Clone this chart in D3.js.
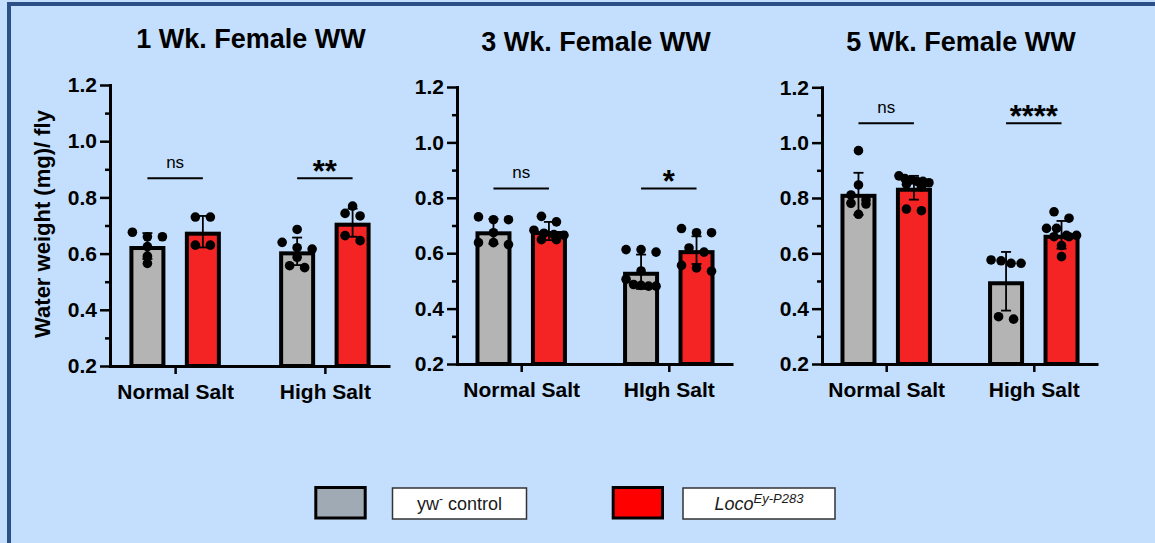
<!DOCTYPE html>
<html>
<head>
<meta charset="utf-8">
<script src="https://cdn.jsdelivr.net/npm/d3@7"></script>
<style>
  body { margin: 0; background: #c3dffd; overflow: hidden; }
  svg { display: block; font-family: Arial, "Liberation Sans", sans-serif; }
</style>
</head>
<body>
<div class="canvas"></div>
<script>
// ---- data ----
const panelTitles = ['1 Wk. Female WW', '3 Wk. Female WW', '5 Wk. Female WW'];
const categories = ['Normal Salt', 'High Salt'];
const categoryLabels = [
    ['Normal Salt', 'High Salt'],
    ['Normal Salt', 'HIgh Salt'],
    ['Normal Salt', 'High Salt']
];
const yTicks = [0.2, 0.4, 0.6, 0.8, 1.0, 1.2];
const yMinorTicks = [0.3, 0.5, 0.7, 0.9, 1.1];
const seriesNames = ['control', 'loco'];

// [panel][category]
const controlMeans = [[0.627, 0.608], [0.679, 0.533], [0.815, 0.499]];
const controlSD = [[0.046, 0.049], [0.045, 0.062], [0.076, 0.106]];
const controlPoints = [
    [[0.676, 0.66, 0.66, 0.625, 0.591, 0.565], [0.686, 0.64, 0.621, 0.616, 0.587, 0.557, 0.55]],
    [[0.731, 0.721, 0.721, 0.674, 0.638, 0.638, 0.631], [0.613, 0.613, 0.604, 0.536, 0.506, 0.487, 0.484, 0.481, 0.481]],
    [[0.971, 0.847, 0.811, 0.793, 0.781, 0.778, 0.741], [0.576, 0.573, 0.564, 0.564, 0.371, 0.362]]
];
const locoMeans = [[0.678, 0.71], [0.68, 0.611], [0.837, 0.667]];
const locoSD = [[0.056, 0.05], [0.033, 0.05], [0.043, 0.05]];
const locoPoints = [
    [[0.73, 0.73, 0.63, 0.63], [0.769, 0.743, 0.734, 0.664, 0.646]],
    [[0.733, 0.713, 0.683, 0.672, 0.667, 0.665, 0.649, 0.649], [0.689, 0.674, 0.674, 0.619, 0.604, 0.556, 0.547, 0.535]],
    [[0.88, 0.87, 0.865, 0.86, 0.86, 0.855, 0.85, 0.84, 0.76, 0.754], [0.75, 0.727, 0.69, 0.69, 0.665, 0.665, 0.66, 0.66, 0.628, 0.588]]
];

// significance brackets: label per category, height in data units per panel
const sigLabels = [['ns', '**'], ['ns', '*'], ['ns', '****']];
const sigLevels = [0.868, 0.834, 1.07];

// ---- layout ----
const width = 1155, height = 543;
const panels = [
    {x0: 110, x1: 390, yTop: 85, yBottom: 366, titleY: 48},
    {x0: 457, x1: 733, yTop: 87, yBottom: 364, titleY: 50.5},
    {x0: 822, x1: 1098, yTop: 87.3, yBottom: 364, titleY: 50.5}
];
const colors = {control: '#b4b4b4', loco: '#f42424'};
const barWidth = 36, barStroke = 4, dotR = 4.8;

const svg = d3.select('.canvas')
    .append('svg')
        .attr('width', width)
        .attr('height', height);

svg.append('rect')
    .attr('width', width).attr('height', height)
    .attr('fill', '#c3dffd');

// frame (only the top and left edges show)
svg.append('rect')
    .attr('x', 9).attr('y', 4)
    .attr('width', 1200).attr('height', 600)
    .attr('fill', 'none')
    .attr('stroke', '#2b5088')
    .attr('stroke-width', 4);

// spread dots that sit at about the same height into a row
function layoutDots(values, y) {
    const sorted = values.map(v => ({v, py: y(v)})).sort((a, b) => a.py - b.py);
    const rows = [];
    sorted.forEach(d => {
        const row = rows[rows.length - 1];
        if (row && d.py - row[0].py < 7) row.push(d);
        else rows.push([d]);
    });
    const out = [];
    rows.forEach(row => {
        const n = row.length;
        const step = n > 1 ? Math.min(15, 30 / (n - 1)) : 0;
        row.forEach((d, i) => out.push({v: d.v, py: d.py, dx: (i - (n - 1) / 2) * step}));
    });
    return out;
}

panels.forEach((p, pi) => {
    const g = svg.append('g');

    const y = d3.scaleLinear()
        .domain([0.2, 1.2])
        .range([p.yBottom, p.yTop]);

    const x = d3.scalePoint()
        .domain(categories)
        .range([p.x0, p.x1])
        .padding(0.435);

    const xSub = d3.scaleBand()
        .domain(seriesNames)
        .range([-45.75, 45.75])
        .paddingInner(0.35);

    // title
    g.append('text')
        .attr('x', (p.x0 + p.x1) / 2 + 1)
        .attr('y', p.titleY)
        .attr('text-anchor', 'middle')
        .attr('font-size', 27)
        .attr('font-weight', 'bold')
        .text(panelTitles[pi]);

    // bar data
    const data = [];
    categories.forEach((c, ci) => {
        data.push({cat: c, ci, series: 'control', mean: controlMeans[pi][ci], sd: controlSD[pi][ci], points: controlPoints[pi][ci]});
        data.push({cat: c, ci, series: 'loco', mean: locoMeans[pi][ci], sd: locoSD[pi][ci], points: locoPoints[pi][ci]});
    });
    const cx = d => x(d.cat) + xSub(d.series) + xSub.bandwidth() / 2;

    // bars (outline drawn inside the value)
    g.selectAll('rect.bar')
        .data(data)
        .enter()
        .append('rect')
            .attr('class', 'bar')
            .attr('x', d => cx(d) - barWidth / 2 + barStroke / 2)
            .attr('y', d => y(d.mean) + barStroke / 2)
            .attr('width', barWidth - barStroke)
            .attr('height', d => p.yBottom - y(d.mean) - barStroke / 2)
            .attr('fill', d => colors[d.series])
            .attr('stroke', '#000')
            .attr('stroke-width', barStroke);

    // error bars (mean +/- SD)
    const err = g.selectAll('g.err')
        .data(data)
        .enter()
        .append('g')
            .attr('class', 'err')
            .attr('stroke', '#000')
            .attr('stroke-width', 1.8);
    err.append('line')
        .attr('x1', cx).attr('x2', cx)
        .attr('y1', d => y(d.mean - d.sd))
        .attr('y2', d => y(d.mean + d.sd));
    err.append('line')
        .attr('x1', d => cx(d) - 5).attr('x2', d => cx(d) + 5)
        .attr('y1', d => y(d.mean + d.sd)).attr('y2', d => y(d.mean + d.sd));
    err.append('line')
        .attr('x1', d => cx(d) - 5).attr('x2', d => cx(d) + 5)
        .attr('y1', d => y(d.mean - d.sd)).attr('y2', d => y(d.mean - d.sd));

    // individual flies
    data.forEach(d => {
        g.selectAll(null)
            .data(layoutDots(d.points, y))
            .enter()
            .append('circle')
                .attr('cx', e => cx(d) + e.dx)
                .attr('cy', e => e.py)
                .attr('r', dotR)
                .attr('fill', '#000');
    });

    // significance lines
    categories.forEach((c, ci) => {
        const xa = x(c) + xSub('control') + xSub.bandwidth() / 2;
        const xb = x(c) + xSub('loco') + xSub.bandwidth() / 2;
        const ly = y(sigLevels[pi]);
        g.append('line')
            .attr('x1', xa).attr('x2', xb)
            .attr('y1', ly).attr('y2', ly)
            .attr('stroke', '#000')
            .attr('stroke-width', 2);
        const lab = sigLabels[pi][ci];
        const isNs = lab === 'ns';
        g.append('text')
            .attr('x', (xa + xb) / 2)
            .attr('y', isNs ? ly - 10 : ly + 4)
            .attr('text-anchor', 'middle')
            .attr('font-size', isNs ? 17 : 31)
            .attr('font-weight', isNs ? 'normal' : 'bold')
            .text(lab);
    });

    // y axis
    const yAxis = d3.axisLeft(y)
        .tickValues(yTicks)
        .tickFormat(d3.format('.1f'))
        .tickSize(10)
        .tickSizeOuter(0)
        .tickPadding(3);
    const yAxisGroup = g.append('g')
        .attr('transform', `translate(${p.x0}, 0)`)
        .call(yAxis);
    yAxisGroup.select('.domain')
        .attr('stroke-width', 3)
        .attr('stroke-linecap', 'square');
    yAxisGroup.selectAll('.tick line').attr('stroke-width', 2.5);
    yAxisGroup.selectAll('text')
        .attr('font-size', 21)
        .attr('font-weight', 'bold')
        .attr('font-family', 'Arial, "Liberation Sans", sans-serif')
        .attr('fill', '#000');

    const yMinor = d3.axisLeft(y)
        .tickValues(yMinorTicks)
        .tickFormat('')
        .tickSize(5)
        .tickSizeOuter(0);
    const yMinorGroup = g.append('g')
        .attr('transform', `translate(${p.x0}, 0)`)
        .call(yMinor);
    yMinorGroup.select('.domain').remove();
    yMinorGroup.selectAll('.tick line').attr('stroke-width', 2.5);

    // x axis
    const xAxis = d3.axisBottom(x)
        .tickSize(8)
        .tickSizeOuter(0)
        .tickPadding(10)
        .tickFormat((d, i) => categoryLabels[pi][i]);
    const xAxisGroup = g.append('g')
        .attr('transform', `translate(0, ${p.yBottom})`)
        .call(xAxis);
    xAxisGroup.select('.domain')
        .attr('stroke-width', 3);
    xAxisGroup.selectAll('.tick line').attr('stroke-width', 2.5);
    xAxisGroup.selectAll('text')
        .attr('font-size', 21)
        .attr('font-weight', 'bold')
        .attr('font-family', 'Arial, "Liberation Sans", sans-serif')
        .attr('fill', '#000');
});

// shared y title
svg.append('text')
    .attr('transform', 'translate(50, 224) rotate(-90)')
    .attr('text-anchor', 'middle')
    .attr('font-size', 22)
    .attr('font-weight', 'bold')
    .text('Water weight (mg)/ fly');

// legend
const legend = svg.append('g');
legend.append('rect')
    .attr('x', 315.8).attr('y', 487.5).attr('width', 49.4).attr('height', 30.5)
    .attr('fill', '#a0aab4').attr('stroke', '#000').attr('stroke-width', 3);
legend.append('rect')
    .attr('x', 392.5).attr('y', 488).attr('width', 134).attr('height', 31)
    .attr('fill', '#fff').attr('stroke', '#333').attr('stroke-width', 1.5);
const t1 = legend.append('text')
    .attr('x', 459.5).attr('y', 510)
    .attr('text-anchor', 'middle')
    .attr('font-size', 18)
    .attr('fill', '#1a1a1a');
t1.append('tspan').text('yw');
t1.append('tspan').attr('dy', -7).attr('font-size', 12).text('-');
t1.append('tspan').attr('dy', 7).text(' control');

legend.append('rect')
    .attr('x', 613.2).attr('y', 487.5).attr('width', 49.3).attr('height', 30.5)
    .attr('fill', '#ff0000').attr('stroke', '#000').attr('stroke-width', 3);
legend.append('rect')
    .attr('x', 683).attr('y', 488).attr('width', 152).attr('height', 31)
    .attr('fill', '#fff').attr('stroke', '#333').attr('stroke-width', 1.5);
const t2 = legend.append('text')
    .attr('x', 759).attr('y', 510)
    .attr('text-anchor', 'middle')
    .attr('font-size', 18)
    .attr('font-style', 'italic')
    .attr('fill', '#1a1a1a');
t2.append('tspan').text('Loco');
t2.append('tspan').attr('dy', -7).attr('font-size', 13).text('Ey-P283');
</script>
</body>
</html>
